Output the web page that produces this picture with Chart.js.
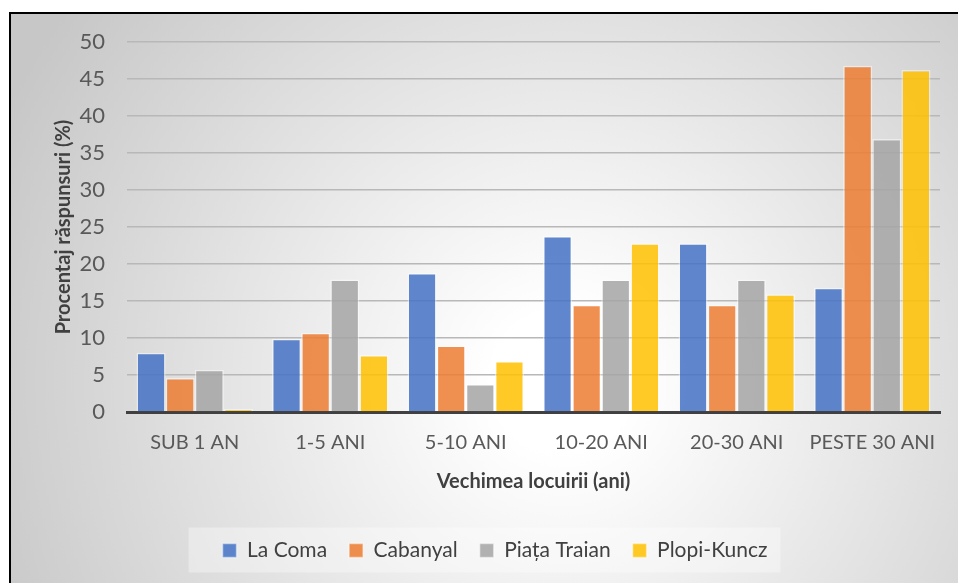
<!DOCTYPE html>
<html>
<head>
<meta charset="utf-8">
<script src="https://cdn.jsdelivr.net/npm/chart.js@4/dist/chart.umd.min.js"></script>
<style>
  html, body { margin: 0; padding: 0; background: #fff; }
  body { width: 958px; height: 583px; overflow: hidden; position: relative; }
  #frame {
    position: absolute; left: 9px; top: 12px; width: 960px; height: 580px;
    border: 2px solid #000;
    background: radial-gradient(circle at 551px 368px, #ffffff 0px, #ffffff 70px, #c7c7c7 620px);
  }
  #wrap { position: absolute; left: 0; top: 0; width: 958px; height: 583px; }
</style>
</head>
<body>
<div id="frame"></div>
<div id="wrap"><canvas id="chart" width="958" height="583"></canvas></div>
<script>
// Categories and values
const categories = ['SUB 1 AN', '1-5 ANI', '5-10 ANI', '10-20 ANI', '20-30 ANI', 'PESTE 30 ANI'];
const laComa = [8.0, 9.9, 18.8, 23.8, 22.8, 16.8];
const cabanyal = [4.6, 10.7, 9.0, 14.5, 14.5, 46.8];
const piataTraian = [5.7, 17.9, 3.8, 17.9, 17.9, 36.9];
const plopiKuncz = [0.4, 7.7, 6.9, 22.8, 15.9, 46.2];
const yTicks = [0, 5, 10, 15, 20, 25, 30, 35, 40, 45, 50];

Chart.defaults.font.family = 'Lato, "Open Sans", sans-serif';

// Light box behind the legend
const legendBox = {
  id: 'legendBox',
  beforeDraw(chart) {
    const boxes = chart.legend.legendHitBoxes;
    if (!boxes || !boxes.length) return;
    const ctx = chart.ctx;
    const left = boxes[0].left - 34;
    const last = boxes[boxes.length - 1];
    const right = last.left + last.width + 13;
    const midY = boxes[0].top + boxes[0].height / 2;
    ctx.save();
    ctx.fillStyle = 'rgba(255,255,255,0.35)';
    ctx.fillRect(left, midY - 23, right - left, 45);
    ctx.restore();
  }
};

const barBorder = 'rgba(255,255,255,0.45)';

const config = {
  type: 'bar',
  data: {
    labels: categories,
    datasets: [
      { label: 'La Coma', data: laComa, backgroundColor: 'rgba(68,114,196,0.85)', borderColor: barBorder, borderWidth: 1.5 },
      { label: 'Cabanyal', data: cabanyal, backgroundColor: 'rgba(237,125,49,0.85)', borderColor: barBorder, borderWidth: 1.5 },
      { label: 'Piața Traian', data: piataTraian, backgroundColor: 'rgba(165,165,165,0.85)', borderColor: barBorder, borderWidth: 1.5 },
      { label: 'Plopi-Kuncz', data: plopiKuncz, backgroundColor: 'rgba(255,192,0,0.85)', borderColor: barBorder, borderWidth: 1.5 }
    ]
  },
  options: {
    responsive: false,
    animation: false,
    layout: { padding: { left: 50, right: 18, top: 42, bottom: 12 } },
    datasets: { bar: { categoryPercentage: 0.86, barPercentage: 1.0 } },
    scales: {
      x: {
        grid: { display: false, drawTicks: false },
        border: { color: '#404040', width: 3 },
        ticks: { color: '#595959', font: { size: 20 }, padding: 19 },
        title: { display: true, text: 'Vechimea locuirii (ani)', color: '#404040', font: { size: 20, weight: 'bold' }, padding: { top: 10, bottom: 24 } },
        afterFit: (s) => { s.height = 106; }
      },
      y: {
        min: 0,
        max: 50,
        afterBuildTicks: (s) => { s.ticks = yTicks.map(v => ({ value: v })); },
        grid: { color: '#b8b8b8', lineWidth: 1.5, drawTicks: false },
        border: { display: false },
        ticks: { color: '#595959', font: { size: 22 }, padding: 22 },
        title: { display: true, text: 'Procentaj răspunsuri (%)', color: '#404040', font: { size: 20, weight: 'bold' }, padding: { top: 2, bottom: 0 } },
        afterFit: (s) => { s.width = 77; }
      }
    },
    plugins: {
      legend: {
        position: 'bottom',
        labels: { boxWidth: 14, boxHeight: 14, color: '#404040', font: { size: 21 }, padding: 22 }
      },
      tooltip: { enabled: false }
    }
  },
  plugins: [legendBox]
};

const ctx = document.getElementById('chart').getContext('2d');
const chart = new Chart(ctx, config);
</script>
</body>
</html>
